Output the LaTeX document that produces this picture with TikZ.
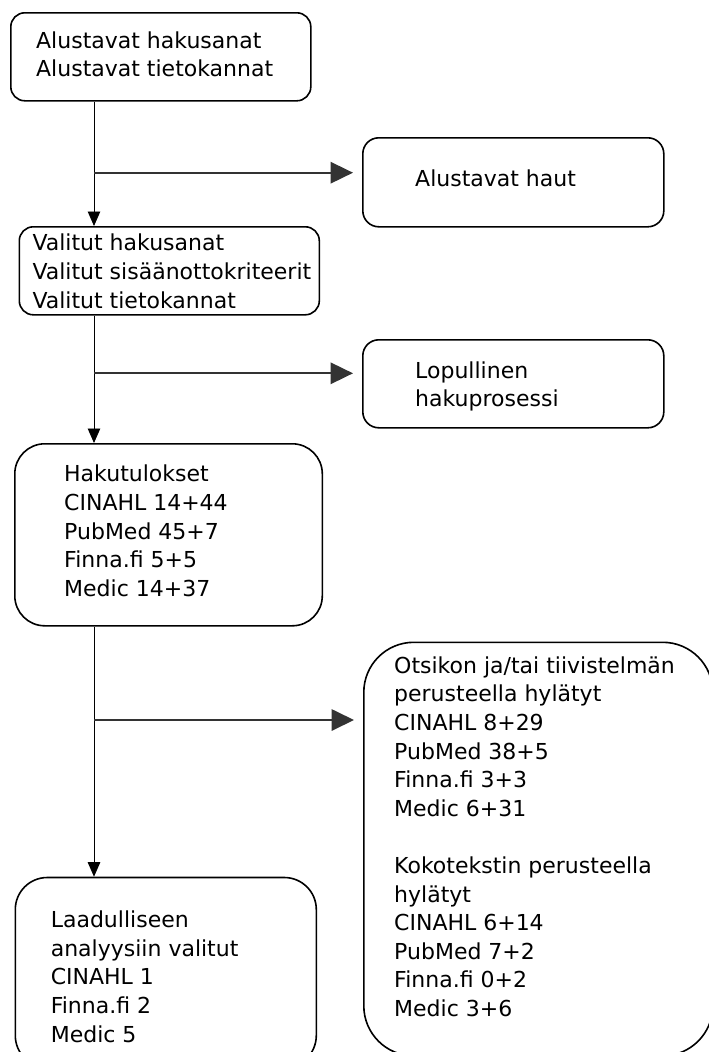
\documentclass[tikz,border=0pt]{standalone}
\usepackage{fontspec}
\setmainfont{DejaVu Sans}
\usetikzlibrary{arrows.meta}

\newcommand{\topstrut}{\rule{0pt}{18pt}}

\tikzset{
  box/.style={draw, line width=1.6pt, rounded corners=#1, inner sep=0pt, anchor=north west},
  box/.default=14pt,
  txt/.style={anchor=north west, inner sep=0pt, align=left, font=\fontsize{22pt}{28.6pt}\selectfont},
  flow/.style={line width=0.9pt, -{Triangle[length=14.5pt,width=12.5pt]}},
  branch/.style={line width=1.8pt, black!80, -{Triangle[length=22.5pt,width=21.5pt]}, shorten >=9pt}
}

\begin{document}
\begin{tikzpicture}[x=1pt,y=-1pt]
\useasboundingbox (0,0) rectangle (709,1052);

% laatikot
\node[box, minimum width=300pt, minimum height=88pt] (alku) at (10,12) {};
\node[box=16pt, minimum width=301pt, minimum height=89pt] (alkuhaut) at (362,137) {};
\node[box, minimum width=300pt, minimum height=88pt] (valinta) at (18.5,226) {};
\node[box=16pt, minimum width=301pt, minimum height=88pt] (lophaku) at (362,339) {};
\node[box=30pt, minimum width=307.5pt, minimum height=182pt] (tulos) at (14,443) {};
\node[box=50pt, minimum width=349pt, minimum height=413.5pt] (hylatyt) at (363,641.5) {};
\node[box=32pt, minimum width=301pt, minimum height=190pt] (analyysi) at (14.5,876.7) {};

% tekstit
\node[txt] (alku-t) at (36,30) {\topstrut Alustavat hakusanat\\Alustavat tietokannat};
\node[txt] (alkuhaut-t) at (415,168.7) {\topstrut Alustavat haut};
\node[txt] (valinta-t) at (32.3,232.7) {\topstrut Valitut hakusanat\\Valitut sisäänottokriteerit\\Valitut tietokannat};
\node[txt] (lophaku-t) at (415,360) {\topstrut Lopullinen\\hakuprosessi};
\node[txt] (tulos-t) at (64,463.7) {\topstrut Hakutulokset\\CINAHL 14+44\\PubMed 45+7\\Finna.fi 5+5\\Medic 14+37};
\node[txt] (hylatyt-t) at (394,655) {\topstrut Otsikon ja/tai tiivistelmän\\perusteella hylätyt\\CINAHL 8+29\\PubMed 38+5\\Finna.fi 3+3\\Medic 6+31\\[28.6pt]Kokotekstin perusteella\\hylätyt\\CINAHL 6+14\\PubMed 7+2\\Finna.fi 0+2\\Medic 3+6};
\node[txt] (analyysi-t) at (50.6,909.5) {\topstrut Laadulliseen\\analyysiin valitut\\CINAHL 1\\Finna.fi 2\\Medic 5};

% nuolet
\coordinate (haara1) at (94,172.7);
\coordinate (haara2) at (94,373.3);
\coordinate (haara3) at (94,720);
\draw[flow] (alku.south -| haara1) -- (valinta.north -| haara1);
\draw[flow] (valinta.south -| haara1) -- (tulos.north -| haara1);
\draw[flow] (tulos.south -| haara1) -- (analyysi.north -| haara1);
\draw[branch] (haara1) -- (haara1 -| alkuhaut.west);
\draw[branch] (haara2) -- (haara2 -| lophaku.west);
\draw[branch] (haara3) -- (haara3 -| hylatyt.west);
\end{tikzpicture}
\end{document}
